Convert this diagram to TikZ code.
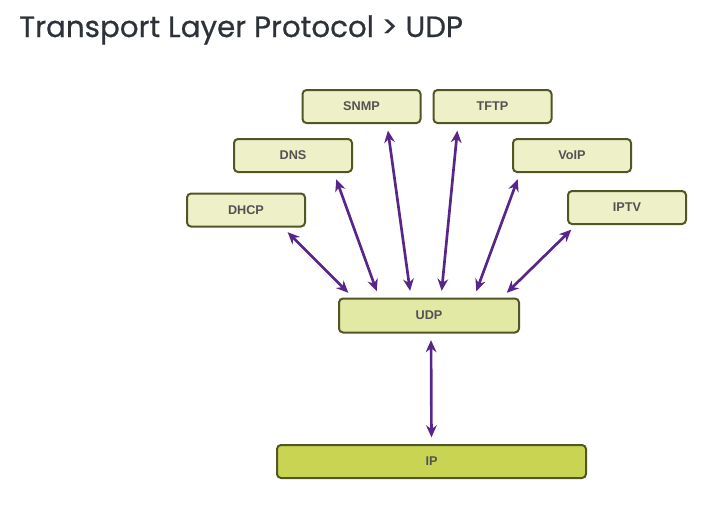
\documentclass[tikz,border=0pt]{standalone}
\usepackage{fontspec}
\setmainfont{Liberation Sans}
\newfontfamily\titlefont[FakeBold=0.6]{Poppins}
\usetikzlibrary{arrows.meta,calc}
\definecolor{boxfill}{RGB}{238,240,200}
\definecolor{udpfill}{RGB}{226,233,165}
\definecolor{ipfill}{RGB}{200,212,82}
\definecolor{boxline}{RGB}{82,86,36}
\definecolor{arrowcol}{RGB}{88,38,138}
\definecolor{labelcol}{RGB}{82,82,82}
\definecolor{titlecol}{RGB}{45,50,56}
\begin{document}
\begin{tikzpicture}[x=0.75pt,y=-0.75pt]
\useasboundingbox (0,0) rectangle (706,511);
\node (title) [anchor=base west,inner sep=0pt,text=titlecol] at (19,37) {\titlefont\fontsize{22}{26}\selectfont Transport Layer Protocol > UDP};

\begin{scope}[every node/.style={rectangle,rounded corners=3pt,draw=boxline,line width=1.5pt,fill=boxfill,
  minimum width=88.5pt,minimum height=24.75pt,text=labelcol,font=\bfseries\fontsize{9.5}{11}\selectfont}]
\node (SNMP) at (361.5,106.5) {SNMP};
\node (TFTP) at (492.5,106.5) {TFTP};
\node (DNS) at (293,155.5) {DNS};
\node (VoIP) at (572,155.5) {VoIP};
\node (DHCP) at (246,210) {DHCP};
\node (IPTV) at (627,207.5) {IPTV};
\node (UDP) [fill=udpfill,minimum width=135pt,minimum height=25.5pt] at (429,315.5) {UDP};
\node (IP) [fill=ipfill,minimum width=231.75pt] at (431.5,461.5) {IP};
\end{scope}

\begin{scope}[every edge/.style={draw=arrowcol,line width=2pt,shorten <=5pt,shorten >=5pt,
  arrows={Stealth[length=9pt,width=8pt]-Stealth[length=9pt,width=8pt]}}]
    \path ($(DHCP.south)+(37,0)$) edge ($(UDP.north)+(-76,0)$);
    \path ($(DNS.south)+(41,0)$) edge ($(UDP.north)+(-50,0)$);
    \path ($(SNMP.south)+(25.5,0)$) edge ($(UDP.north)+(-18,0)$);
    \path ($(TFTP.south)+(-34.5,0)$) edge ($(UDP.north)+(12,0)$);
    \path ($(VoIP.south)+(-52,0)$) edge ($(UDP.north)+(45,0)$);
    \path ($(IPTV.south)+(-51,0)$) edge ($(UDP.north)+(73,0)$);
    \path ($(UDP.south)+(2,0)$) edge ($(IP.north)+(0,0)$);
\end{scope}
\end{tikzpicture}
\end{document}
